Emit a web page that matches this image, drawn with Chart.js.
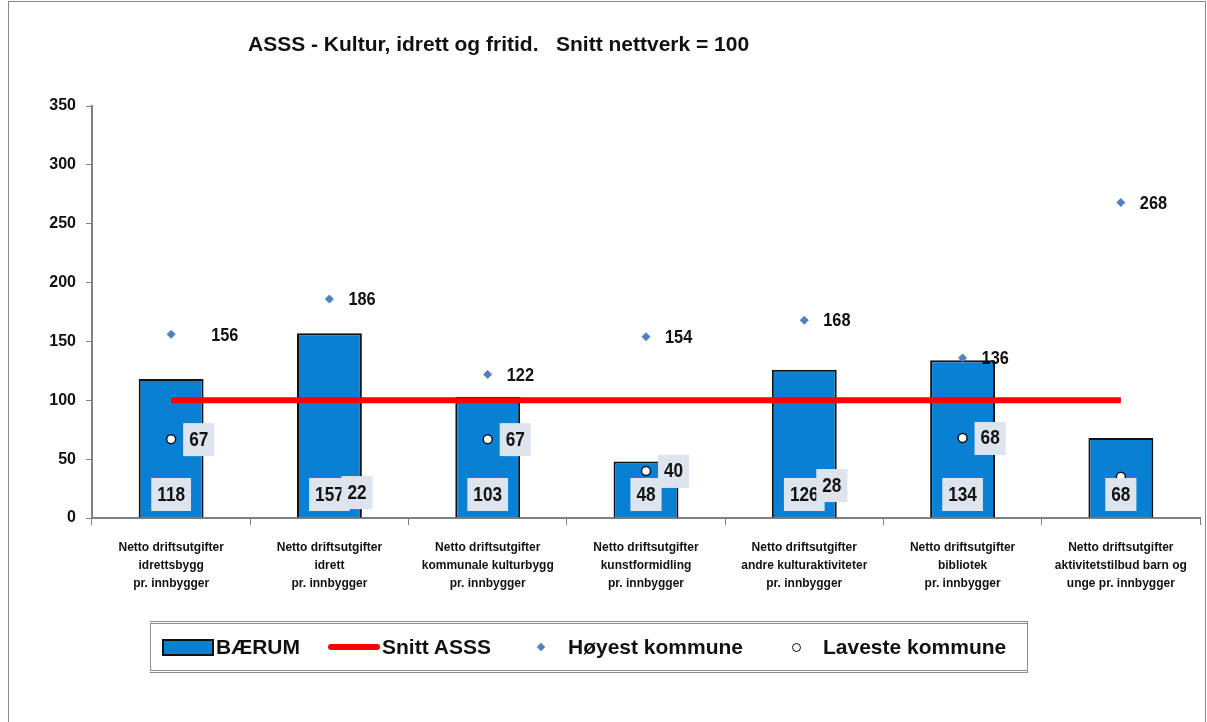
<!DOCTYPE html>
<html>
<head>
<meta charset="utf-8">
<script src="https://cdn.jsdelivr.net/npm/chart.js@4.4.0/dist/chart.umd.min.js"></script>
<style>
  body { margin: 0; background: #fff; }
  #wrap { position: relative; width: 1207px; height: 722px; overflow: hidden; }
  #frame { position: absolute; left: 8px; top: 1px; width: 1196px; height: 740px; border: 1px solid #8a8a8a; }
  #title { position: absolute; left: 248px; top: 32px; font: bold 21px "Liberation Sans", Arial, sans-serif; color: #111; white-space: pre; }
  #legend { position: absolute; left: 150px; top: 621px; width: 876px; height: 46px; border: 3px double #8c8c8c; border-left-width: 1px; border-right-width: 1px;
            font: bold 21px "Liberation Sans", Arial, sans-serif; color: #111; }
  .item { position: absolute; top: 0; height: 46px; display: flex; align-items: center; white-space: nowrap; }
  .sw-bar { width: 48px; height: 13px; background: #0a80d2; border: 2px solid #111; margin-right: 2px; }
  .sw-line { width: 52px; height: 6px; background: #ff0000; border-radius: 3px; margin-right: 2px; }
  .sw-dia { width: 6px; height: 6px; background: #4f81bd; transform: rotate(45deg); margin-right: 24px; }
  .sw-circ { width: 7px; height: 7px; border: 1.5px solid #111; border-radius: 50%; background: #fff; margin-right: 22px; }
  canvas { position: absolute; left: 0; top: 0; }
</style>
</head>
<body>
<div id="wrap">
  <div id="frame"></div>
  <canvas id="chart" width="1207" height="722"></canvas>
  <div id="title">ASSS - Kultur, idrett og fritid.   Snitt nettverk = 100</div>
  <div id="legend">
    <div class="item" style="left:11px"><span class="sw-bar"></span>BÆRUM</div>
    <div class="item" style="left:177px"><span class="sw-line"></span>Snitt ASSS</div>
    <div class="item" style="left:387px"><span class="sw-dia"></span>Høyest kommune</div>
    <div class="item" style="left:641px"><span class="sw-circ"></span>Laveste kommune</div>
  </div>
</div>
<script>
const categories = [
  ["Netto driftsutgifter", "idrettsbygg", "pr. innbygger"],
  ["Netto driftsutgifter", "idrett", "pr. innbygger"],
  ["Netto driftsutgifter", "kommunale kulturbygg", "pr. innbygger"],
  ["Netto driftsutgifter", "kunstformidling", "pr. innbygger"],
  ["Netto driftsutgifter", "andre kulturaktiviteter", "pr. innbygger"],
  ["Netto driftsutgifter", "bibliotek", "pr. innbygger"],
  ["Netto driftsutgifter", "aktivitetstilbud barn og", "unge pr. innbygger"],
];
const baerum = [118, 157, 103, 48, 126, 134, 68];
const snittAsss = [100, 100, 100, 100, 100, 100, 100];
const hoyest = [156, 186, 122, 154, 168, 136, 268];
const laveste = [67, 22, 67, 40, 28, 68, 35];
const yTicks = [0, 50, 100, 150, 200, 250, 300, 350];

const FONT = '"Liberation Sans", Arial, sans-serif';

// value labels drawn like the Excel data labels (narrow bold text)
const valueLabels = {
  id: "valueLabels",
  afterDatasetsDraw(chart) {
    const ctx = chart.ctx;
    const y0 = chart.scales.y.getPixelForValue(0);
    const sx = 0.86;
    ctx.save();
    ctx.font = "bold 20px " + FONT;
    ctx.textBaseline = "middle";

    function text(t, cx, cy, align) {
      ctx.save();
      ctx.translate(cx, cy);
      ctx.scale(sx, 1);
      ctx.fillStyle = "#111";
      ctx.textAlign = align;
      ctx.fillText(t, 0, 1);
      ctx.restore();
    }
    function width(t) { return ctx.measureText(t).width * sx; }
    function box(t, cx, cy) {
      const w = width(t) + 12;
      ctx.fillStyle = "#dde4ee";
      ctx.fillRect(cx - w / 2, cy - 16, w, 33);
      text(t, cx, cy, "center");
    }

    chart.getDatasetMeta(1).data.forEach((bar, i) => {
      box(String(baerum[i]), bar.x, y0 - 24);
    });
    chart.getDatasetMeta(3).data.forEach((pt, i) => {
      if (i === 6) return; // label hidden in the original
      const w = width(String(laveste[i])) + 12;
      box(String(laveste[i]), pt.x + 12 + w / 2, pt.y);
    });
    ctx.font = "bold 19px " + FONT;
    chart.getDatasetMeta(2).data.forEach((pt, i) => {
      text(String(hoyest[i]), pt.x + (i === 0 ? 40 : 19), pt.y, "left");
    });
    ctx.restore();
  }
};

new Chart(document.getElementById("chart"), {
  data: {
    labels: categories,
    datasets: [
      {
        type: "line",
        label: "Snitt ASSS",
        data: snittAsss,
        borderColor: "#ff0000",
        borderWidth: 6,
        pointRadius: 0,
        order: 1,
      },
      {
        type: "bar",
        label: "BÆRUM",
        data: baerum,
        backgroundColor: "#0a80d2",
        borderColor: "#111",
        borderWidth: 2,
        categoryPercentage: 1,
        barPercentage: 0.41,
        order: 2,
      },
      {
        type: "line",
        label: "Høyest kommune",
        data: hoyest,
        showLine: false,
        pointStyle: "rectRot",
        pointRadius: 4,
        backgroundColor: "#4f81bd",
        borderColor: "#4f81bd",
        order: 0,
      },
      {
        type: "line",
        label: "Laveste kommune",
        data: laveste,
        showLine: false,
        pointStyle: "circle",
        pointRadius: 4.5,
        backgroundColor: "#fff",
        borderColor: "#111",
        borderWidth: 1.5,
        order: 0,
      },
    ],
  },
  options: {
    responsive: false,
    animation: false,
    layout: { padding: { left: 30, right: 7, top: 106, bottom: 114 } },
    plugins: {
      legend: { display: false },
      tooltip: { enabled: false },
    },
    scales: {
      x: {
        offset: true,
        grid: { offset: true, drawOnChartArea: false, drawTicks: true, tickLength: 7, color: "#808080" },
        border: { color: "#808080", width: 2 },
        ticks: { color: "#111", font: { family: FONT, size: 12, weight: "bold", lineHeight: 1.5 }, maxRotation: 0, autoSkip: false, padding: 14 },
        afterFit(scale) { scale.height = 90; },
      },
      y: {
        min: 0,
        max: 350,
        afterBuildTicks(scale) { scale.ticks = yTicks.map(v => ({ value: v })); },
        grid: { drawOnChartArea: false, drawTicks: true, tickLength: 6, color: "#808080" },
        border: { color: "#808080", width: 2 },
        ticks: { color: "#111", font: { family: FONT, size: 16, weight: "bold" }, padding: 10 },
        afterFit(scale) { scale.width = 62; },
      },
    },
  },
  plugins: [valueLabels],
});
</script>
</body>
</html>
